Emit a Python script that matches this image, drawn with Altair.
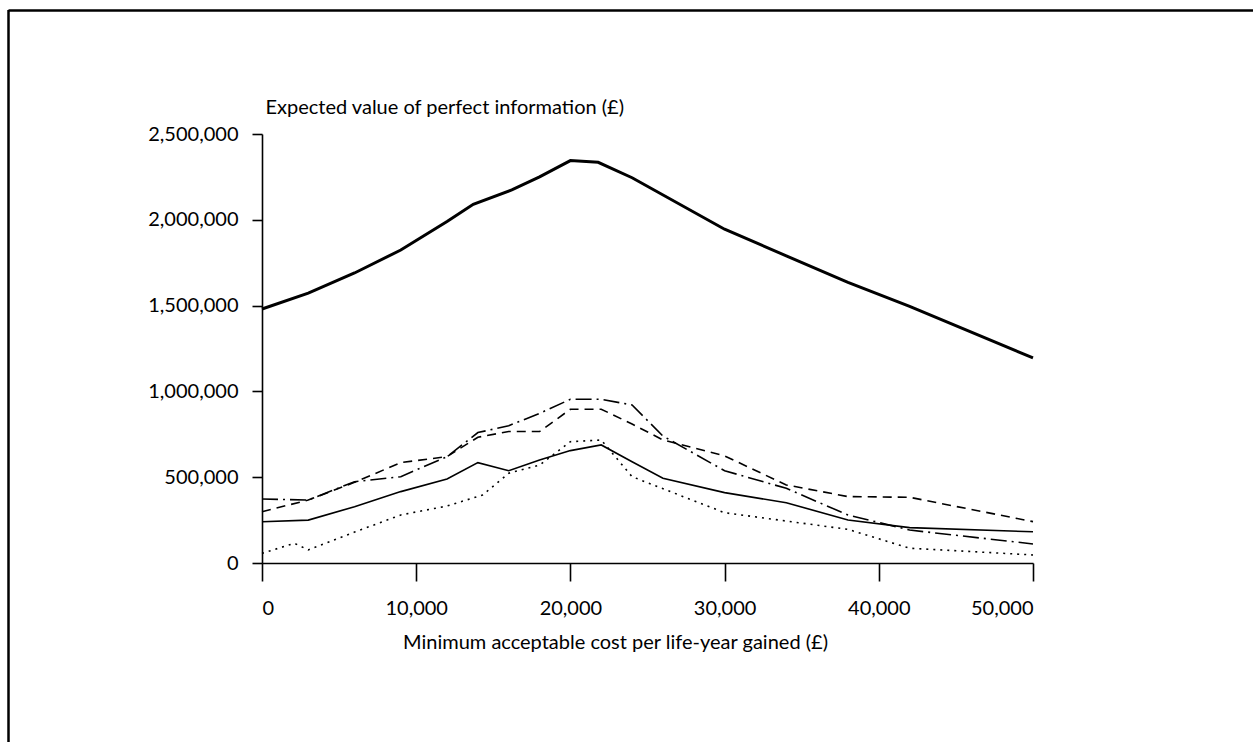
import altair as alt
import pandas as pd

# Threshold values (£ per life-year gained)
x_total = [0, 3000, 6000, 9000, 12000, 13700, 16200, 18000, 20000, 21800, 24000, 30000, 34000, 38000, 42000, 50000]
evpi_total = [1480000, 1573000, 1690000, 1824000, 1990000, 2090000, 2174000, 2250000, 2345000, 2335000, 2245000, 1945000, 1790000, 1635000, 1495000, 1195000]

x_sub = [0, 3000, 6000, 9000, 12000, 14000, 16000, 18000, 20000, 22000, 24000, 26000, 30000, 34000, 38000, 42000, 50000]
evpi_solid = [240000, 250000, 328000, 416000, 490000, 585000, 538000, 600000, 655000, 688000, 590000, 494000, 410000, 351000, 251000, 206000, 182000]
evpi_dashed = [299000, 367000, 470000, 585000, 620000, 733000, 766000, 766000, 896000, 896000, 810000, 717000, 624000, 455000, 387000, 383000, 241000]
evpi_dashdot = [373000, 367000, 474000, 503000, 620000, 760000, 800000, 872000, 954000, 954000, 921000, 740000, 538000, 435000, 280000, 192000, 111000]

x_dot = [0, 2100, 3000, 6000, 9000, 12000, 14300, 16000, 18000, 20000, 22000, 24000, 30000, 38000, 42000, 50000]
evpi_dotted = [56000, 115000, 76000, 180000, 280000, 332000, 396000, 523000, 571000, 707000, 717000, 503000, 293000, 196000, 86000, 47000]

x_ticks = [0, 10000, 20000, 30000, 40000, 50000]
y_ticks = [0, 500000, 1000000, 1500000, 2000000, 2500000]

FONT = "Lato"
W, H = 771, 429
PL, PT = 262, 134

xs = alt.Scale(domain=[0, 50000], nice=False)
ys = alt.Scale(domain=[0, 2500000], nice=False)

x_axis = alt.Axis(values=x_ticks, format=",d", title="Minimum acceptable cost per life-year gained (£)",
                  tickSize=18, labelPadding=17, grid=False, titleX=353, titleY=85,
                  titleBaseline="alphabetic", titleAlign="center")
y_axis = alt.Axis(values=y_ticks, format=",d", title="Expected value of perfect information (£)",
                  tickSize=10, labelPadding=14, grid=False, titleAngle=0, titleAlign="left",
                  titleX=3, titleY=-21, titleBaseline="alphabetic")


def series(xv, yv, width, dash):
    df = pd.DataFrame({"x": xv, "y": yv})
    kw = dict(color="black", strokeWidth=width)
    if dash:
        kw["strokeDash"] = dash
    enc = dict(x=alt.X("x:Q", scale=xs, axis=x_axis), y=alt.Y("y:Q", scale=ys, axis=y_axis))
    return alt.Chart(df).mark_line(**kw).encode(**enc)


total = series(x_total, evpi_total, 3, None)
solid = series(x_sub, evpi_solid, 1.6, None)
dashed = series(x_sub, evpi_dashed, 1.6, [9, 6])
dashdot = series(x_sub, evpi_dashdot, 1.6, [16, 5, 2, 5])
dotted = series(x_dot, evpi_dotted, 1.6, [2, 5])

frame_df = pd.DataFrame({"k": [0]})
frame_left = alt.Chart(frame_df).mark_rule(color="black", strokeWidth=2.5).encode(
    x=alt.value(8.5 - PL), y=alt.value(10 - PT), y2=alt.value(760 - PT))
frame_top = alt.Chart(frame_df).mark_rule(color="black", strokeWidth=2.5).encode(
    x=alt.value(8.5 - PL), x2=alt.value(1270 - PL), y=alt.value(10.5 - PT))

chart = alt.layer(total, solid, dashed, dashdot, dotted, frame_left, frame_top).properties(
    width=W, height=H,
    autosize="none",
    padding={"left": PL, "top": PT, "right": 1253 - PL - W, "bottom": 742 - PT - H},
).configure_view(stroke=None).configure_axis(
    labelFont=FONT, titleFont=FONT, labelFontSize=20, titleFontSize=20,
    labelColor="black", titleColor="black", titleFontWeight="normal",
    domainColor="black", tickColor="black", domainWidth=1.6, tickWidth=1.6,
)

chart.save("out.html", embed_options={"renderer": "svg", "actions": False})
